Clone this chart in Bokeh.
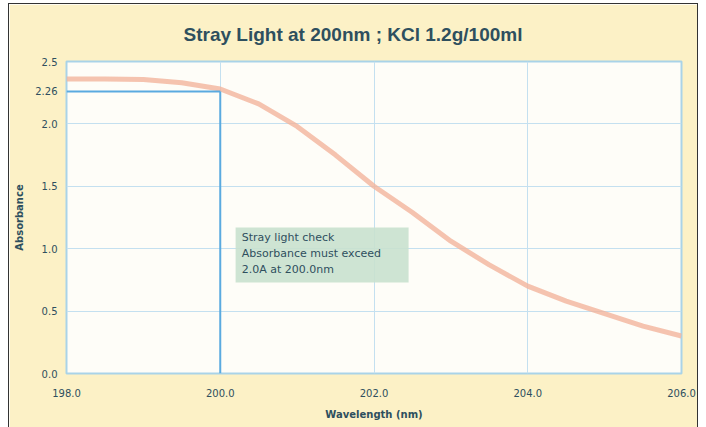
from bokeh.plotting import figure
from bokeh.models import Range1d, FixedTicker, Label, BoxAnnotation, Title, CustomJSTickFormatter
from bokeh.embed import file_html
from bokeh.resources import INLINE

# Data
wavelength = [198.0, 198.5, 199.0, 199.5, 200.0, 200.5, 201.0, 201.5, 202.0,
              202.5, 203.0, 203.5, 204.0, 204.5, 205.0, 205.5, 206.0]
absorbance = [2.36, 2.36, 2.355, 2.33, 2.28, 2.16, 1.98, 1.75, 1.50,
              1.29, 1.06, 0.87, 0.70, 0.58, 0.48, 0.38, 0.30]
check_wavelength = 200.0
check_absorbance = 2.26
check_label = "2.26"
x_ticks = [198.0, 200.0, 202.0, 204.0, 206.0]
y_ticks = [0.0, 0.5, 1.0, 1.5, 2.0, 2.5]
note_lines = ["Stray light check", "Absorbance must exceed", "2.0A at 200.0nm"]

FONT = "Liberation Sans"
FONT2 = "DejaVu Sans"
TXT = "#2E4F5E"
CREAM = "#FCF1C6"

p = figure(width=690, height=424, output_backend="svg", toolbar_location=None,
           x_range=Range1d(x_ticks[0], x_ticks[-1]), y_range=Range1d(y_ticks[0], y_ticks[-1]),
           min_border_left=57, min_border_right=18, min_border_top=57, min_border_bottom=55,
           background_fill_color="#FEFDF8", border_fill_color=CREAM,
           outline_line_color="#A9D3E8", outline_line_width=2,
           styles={"border-left": "1px solid #333", "border-top": "1px solid #333",
                   "border-right": "1px solid #333", "box-sizing": "border-box",
                   "margin-left": "8px", "margin-top": "3px"})

p.title = Title(text="Stray Light at 200nm ; KCl  1.2g/100ml", align="left",
                text_font=FONT, text_font_size="19px", text_font_style="bold",
                text_color=TXT, offset=117, standoff=33)

p.xaxis.ticker = FixedTicker(ticks=x_ticks)
p.yaxis.ticker = FixedTicker(ticks=y_ticks + [check_absorbance])
p.xaxis.formatter = CustomJSTickFormatter(code="return tick.toFixed(1);")
p.yaxis.formatter = CustomJSTickFormatter(
    args=dict(v=check_absorbance, s=check_label),
    code="return Math.abs(tick - v) < 1e-9 ? s : tick.toFixed(1);")

for ax in (p.xaxis, p.yaxis):
    ax.axis_line_color = None
    ax.major_tick_line_color = None
    ax.minor_tick_line_color = None
    ax.major_label_text_font = FONT2
    ax.major_label_text_font_size = "10px"
    ax.major_label_text_color = TXT
    ax.axis_label_text_font = FONT2
    ax.axis_label_text_font_size = "10px"
    ax.axis_label_text_font_style = "bold"
    ax.axis_label_text_color = TXT

p.yaxis.major_tick_out = 0
p.yaxis.major_tick_in = 0
p.yaxis.minor_tick_out = 0
p.yaxis.minor_tick_in = 0

p.xaxis.axis_label = "Wavelength (nm)"
p.yaxis.axis_label = "Absorbance"
p.xaxis.major_label_standoff = 9
p.yaxis.major_label_standoff = 9
p.xaxis.axis_label_standoff = 9
p.yaxis.axis_label_standoff = 7

p.xgrid.grid_line_color = "#C4E0F0"
p.ygrid.grid_line_color = "#C4E0F0"
p.ygrid.ticker = FixedTicker(ticks=y_ticks)
p.grid.grid_line_width = 1

# curve
p.line(wavelength, absorbance, line_color="#F2B49C", line_width=5, line_alpha=0.8)

# check lines
p.line([x_ticks[0], check_wavelength], [check_absorbance, check_absorbance],
       line_color="#5AAAE0", line_width=2)
p.line([check_wavelength, check_wavelength], [y_ticks[0], check_absorbance],
       line_color="#5AAAE0", line_width=2)

# note box
p.add_layout(BoxAnnotation(left=200.2, right=202.45, bottom=0.73, top=1.17,
                           fill_color="#C9E1CE", fill_alpha=0.9, line_color=None))
for i, t in enumerate(note_lines):
    p.add_layout(Label(x=200.28, y=1.09, y_offset=-16 * i, text=t,
                       text_align="left", text_baseline="middle",
                       text_font=FONT2, text_font_size="11px", text_color=TXT))

open("out.html", "w").write(file_html(p, INLINE))
